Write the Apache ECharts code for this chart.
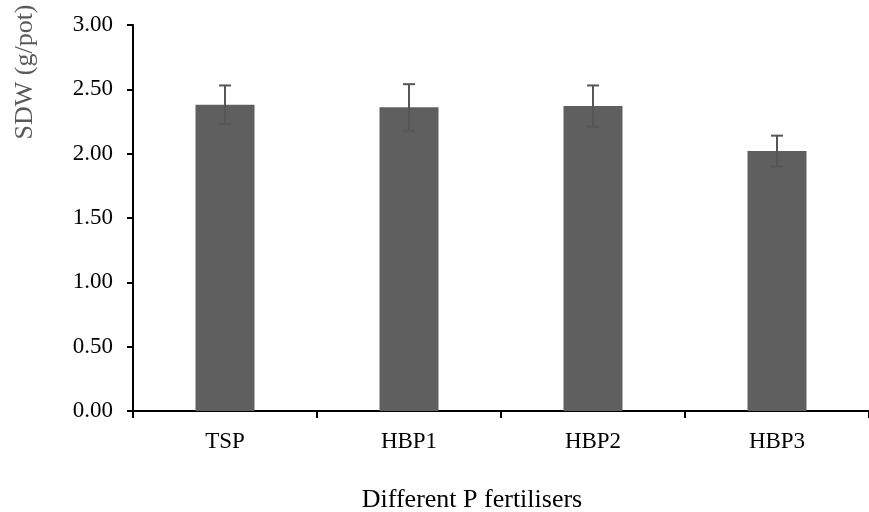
<!DOCTYPE html>
<html>
<head>
<meta charset="utf-8">
<script src="https://cdn.jsdelivr.net/npm/echarts@6/dist/echarts.min.js"></script>
<style>
  html, body { margin: 0; padding: 0; background: #fff; }
  #chart { width: 869px; height: 512px; }
</style>
</head>
<body>
<div id="chart"></div>
<script>
// Shoot dry weight per pot for each phosphorus fertiliser
const categories = ['TSP', 'HBP1', 'HBP2', 'HBP3'];
const sdwMeans = [2.38, 2.36, 2.37, 2.02];
const sdwErrors = [0.15, 0.18, 0.16, 0.12];
const yTicks = [0, 0.5, 1.0, 1.5, 2.0, 2.5, 3.0];

const FONT = "'Liberation Serif', 'Times New Roman', serif";

const errorData = categories.map((c, i) => [i, sdwMeans[i] - sdwErrors[i], sdwMeans[i] + sdwErrors[i]]);

const chart = echarts.init(document.getElementById('chart'), null, { renderer: 'canvas' });

chart.setOption({
  animation: false,
  backgroundColor: '#ffffff',
  grid: { left: 133, top: 25, width: 741, height: 386, containLabel: false },
  xAxis: {
    type: 'category',
    data: categories,
    axisLine: { lineStyle: { color: '#000', width: 2 } },
    axisTick: { show: true, length: 7, lineStyle: { color: '#000', width: 2 } },
    axisLabel: { fontFamily: FONT, fontSize: 23, color: '#000', margin: 19 },
    splitLine: { show: false }
  },
  yAxis: {
    type: 'value',
    min: yTicks[0],
    max: yTicks[yTicks.length - 1],
    interval: 0.5,
    axisLine: { show: true, lineStyle: { color: '#000', width: 2 } },
    axisTick: { show: true, length: 6, lineStyle: { color: '#000', width: 2 } },
    axisLabel: {
      fontFamily: FONT, fontSize: 23, color: '#000', margin: 20,
      formatter: v => v.toFixed(2)
    },
    splitLine: { show: false }
  },
  graphic: [
    {
      type: 'text',
      x: 25,
      y: 72,
      rotation: Math.PI / 2,
      style: {
        text: 'SDW (g/pot)',
        fontFamily: FONT,
        fontSize: 26,
        fill: '#595959',
        textAlign: 'center',
        textVerticalAlign: 'middle'
      }
    },
    {
      type: 'text',
      x: 472,
      y: 500,
      style: {
        text: 'Different P fertilisers',
        fontFamily: FONT,
        fontSize: 26,
        fill: '#000',
        textAlign: 'center',
        textVerticalAlign: 'middle'
      }
    }
  ],
  series: [
    {
      type: 'bar',
      data: sdwMeans,
      barWidth: 59,
      itemStyle: { color: '#5f5f5f' },
      z: 2
    },
    {
      type: 'custom',
      data: errorData,
      z: 3,
      renderItem: function (params, api) {
        const x = api.value(0);
        const lo = api.coord([x, api.value(1)]);
        const hi = api.coord([x, api.value(2)]);
        const half = 6;
        const style = { stroke: '#565656', lineWidth: 2 };
        return {
          type: 'group',
          children: [
            { type: 'line', shape: { x1: hi[0], y1: hi[1], x2: lo[0], y2: lo[1] }, style },
            { type: 'line', shape: { x1: hi[0] - half, y1: hi[1], x2: hi[0] + half, y2: hi[1] }, style },
            { type: 'line', shape: { x1: lo[0] - half, y1: lo[1], x2: lo[0] + half, y2: lo[1] }, style }
          ]
        };
      }
    }
  ]
});
</script>
</body>
</html>
